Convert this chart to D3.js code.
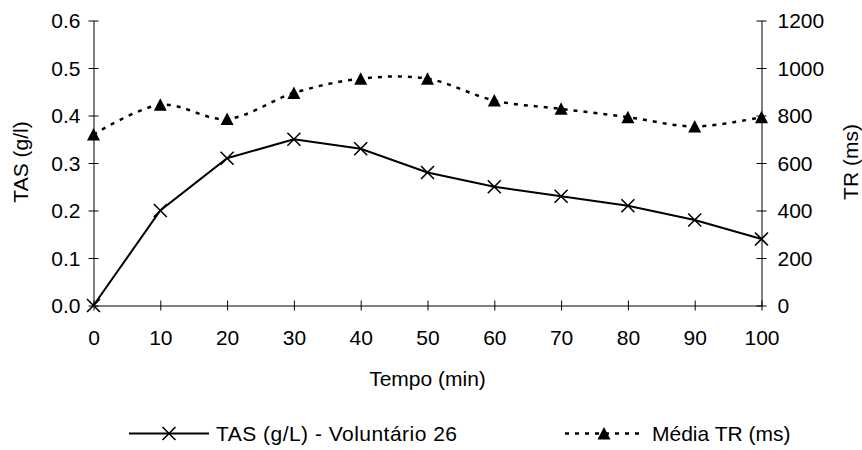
<!DOCTYPE html>
<html>
<head>
<meta charset="utf-8">
<script src="https://cdn.jsdelivr.net/npm/d3@7"></script>
<style>
  html, body { margin: 0; padding: 0; background: #fff; }
  svg text { font-family: "Liberation Sans", Arial, sans-serif; fill: #000; }
</style>
</head>
<body>
<svg id="chart" width="862" height="450"></svg>
<script>
// Time points (min)
const tempo = [0, 10, 20, 30, 40, 50, 60, 70, 80, 90, 100];
// Blood alcohol (g/L) - volunteer 26
const tas = [0, 0.2, 0.31, 0.35, 0.33, 0.28, 0.25, 0.23, 0.21, 0.18, 0.14];
// Mean reaction time (ms)
const mediaTR = [720, 845, 785, 895, 955, 955, 863, 828, 793, 754, 793];

const xTicks = [0, 10, 20, 30, 40, 50, 60, 70, 80, 90, 100];
const leftTicks = [0, 0.1, 0.2, 0.3, 0.4, 0.5, 0.6];
const rightTicks = [0, 200, 400, 600, 800, 1000, 1200];

const svg = d3.select("#chart");
const FS = 21;
const DASH = "4,6";

const x = d3.scaleLinear().domain([0, 100]).range([93.5, 761.5]);
const yL = d3.scaleLinear().domain([0, 0.6]).range([305.5, 20.5]);
const yR = d3.scaleLinear().domain([0, 1200]).range([305.5, 20.5]);

// Axes with ticks crossing the axis line
function styleAxis(g) {
  g.select(".domain").attr("stroke", "#000").attr("stroke-width", 1);
  g.selectAll(".tick line").attr("stroke", "#000").attr("stroke-width", 1);
  g.selectAll(".tick text").attr("font-size", FS).attr("fill", "#000")
    .attr("font-family", "Liberation Sans, Arial, sans-serif");
}

const gx = svg.append("g").attr("transform", "translate(0,305.5)")
  .call(d3.axisBottom(x).tickValues(xTicks).tickSizeOuter(0).tickFormat(d3.format("d")));
styleAxis(gx);
gx.selectAll(".tick line").attr("y1", -5).attr("y2", 5);
gx.selectAll(".tick text").attr("y", 39).attr("dy", 0);

const gl = svg.append("g").attr("transform", "translate(93.5,0)")
  .call(d3.axisLeft(yL).tickValues(leftTicks).tickSizeOuter(0).tickFormat(d3.format(".1f")));
styleAxis(gl);
gl.selectAll(".tick line").attr("x1", -5).attr("x2", 5);
gl.selectAll(".tick text").attr("x", -13).attr("dy", "0.35em");

const gr = svg.append("g").attr("transform", "translate(761.5,0)")
  .call(d3.axisRight(yR).tickValues(rightTicks).tickSizeOuter(0).tickFormat(d3.format("d")));
styleAxis(gr);
gr.selectAll(".tick line").attr("x1", -5).attr("x2", 5);
gr.selectAll(".tick text").attr("x", 16).attr("dy", "0.35em");

// Axis titles
svg.append("text").attr("transform", "translate(21,162) rotate(-90)")
  .attr("text-anchor", "middle").attr("dy", "0.35em").attr("font-size", FS).text("TAS (g/l)");
svg.append("text").attr("transform", "translate(851,162) rotate(-90)")
  .attr("text-anchor", "middle").attr("dy", "0.35em").attr("font-size", FS).text("TR (ms)");
svg.append("text").attr("x", 427.5).attr("y", 386)
  .attr("text-anchor", "middle").attr("font-size", FS).text("Tempo (min)");

// Markers
const xMark = (g, cx, cy, r) => {
  g.append("path")
    .attr("d", `M${cx - r},${cy - r}L${cx + r},${cy + r}M${cx - r},${cy + r}L${cx + r},${cy - r}`)
    .attr("stroke", "#000").attr("stroke-width", 1.6).attr("fill", "none");
};
const triMark = (g, cx, cy) => {
  g.append("path")
    .attr("d", `M${cx},${cy - 6.5}L${cx + 6.5},${cy + 6}L${cx - 6.5},${cy + 6}Z`)
    .attr("fill", "#000");
};

// Mean TR: smoothed dashed line on right axis
const trData = tempo.map((t, i) => [t, mediaTR[i]]);
svg.append("path")
  .attr("d", d3.line().x(d => x(d[0])).y(d => yR(d[1])).curve(d3.curveCatmullRom.alpha(0))(trData))
  .attr("fill", "none").attr("stroke", "#000").attr("stroke-width", 2.5)
  .attr("stroke-dasharray", DASH);
const gTri = svg.append("g");
trData.forEach(d => triMark(gTri, x(d[0]), yR(d[1])));

// TAS: straight solid line on left axis
const tasData = tempo.map((t, i) => [t, tas[i]]);
svg.append("path")
  .attr("d", d3.line().x(d => x(d[0])).y(d => yL(d[1]))(tasData))
  .attr("fill", "none").attr("stroke", "#000").attr("stroke-width", 2);
const gX = svg.append("g");
tasData.forEach(d => xMark(gX, x(d[0]), yL(d[1]), 6.5));

// Legend
const lg = svg.append("g");
lg.append("line").attr("x1", 129).attr("x2", 209).attr("y1", 433.5).attr("y2", 433.5)
  .attr("stroke", "#000").attr("stroke-width", 2);
xMark(lg, 169, 433.5, 6.5);
lg.append("text").attr("x", 216).attr("y", 441).attr("font-size", FS)
  .attr("textLength", 241).attr("lengthAdjust", "spacing").text("TAS (g/L) - Voluntário 26");

lg.append("line").attr("x1", 565).attr("x2", 642).attr("y1", 433.5).attr("y2", 433.5)
  .attr("stroke", "#000").attr("stroke-width", 2.5).attr("stroke-dasharray", DASH);
triMark(lg, 604, 433.5);
lg.append("text").attr("x", 652).attr("y", 441).attr("font-size", FS).text("Média TR (ms)");
</script>
</body>
</html>
